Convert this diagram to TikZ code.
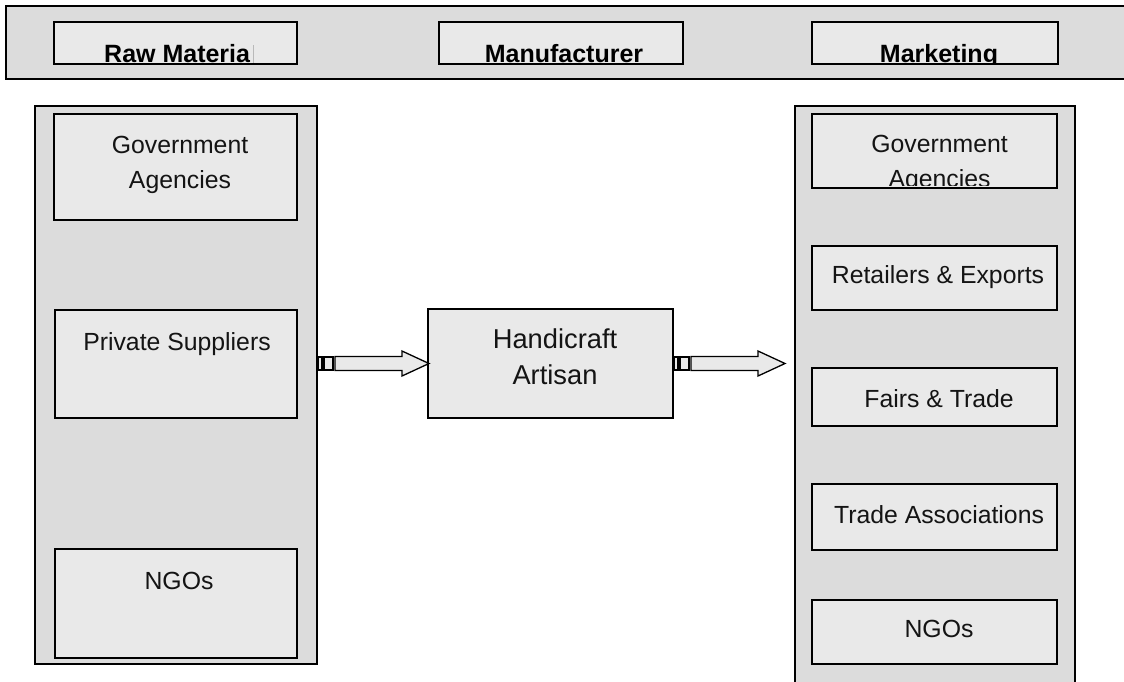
\documentclass[tikz,border=0pt]{standalone}
\usepackage{fontspec}
\setmainfont{Liberation Sans}
\usetikzlibrary{calc}
\definecolor{panelgray}{HTML}{DCDCDC}
\definecolor{boxgray}{HTML}{E9E9E9}
\definecolor{txt}{HTML}{141414}
\tikzset{
  panel/.style={draw=black, fill=panelgray, line width=1.8pt, inner sep=0pt, outer sep=0pt},
  itembox/.style={draw=black, fill=boxgray, line width=1.8pt, inner sep=0pt, outer sep=0pt},
  lbl/.style={text=txt, inner sep=0pt, anchor=base, font=\fontsize{24.8}{35}\selectfont, align=center},
  hdr/.style={text=black, inner sep=0pt, anchor=base, font=\fontsize{25}{30}\selectfont\bfseries},
  arrowpart/.style={draw=black, fill=boxgray, line width=1.3pt}
}
\newcommand\myblockarrow[1]{%
  \draw[arrowpart, shift={(#1)}] (0,-6.5) rectangle (4,6.5);
  \draw[arrowpart, shift={(#1)}] (6,-6.5) rectangle (15,6.5);
  \draw[arrowpart, shift={(#1)}] (17,-7) -- (84,-7) -- (84,-12.5) -- (111,0) -- (84,12.5) -- (84,7) -- (17,7) -- cycle;
}
\begin{document}
\begin{tikzpicture}[x=1pt,y=-1pt]
\useasboundingbox (0,0) rectangle (1124,681);
% top band
\path[panel] (6,6) rectangle (1135,79);
\node[itembox, minimum width=243pt, minimum height=42pt] (raw) at (175.5,43) {};
\node[itembox, minimum width=244pt, minimum height=42pt] (manu) at (561,43) {};
\node[itembox, minimum width=246pt, minimum height=42pt] (mkt) at (935,43) {};
\begin{scope}
  \clip (54,22) rectangle (1058,63);
  \node[hdr, anchor=base west] (rawt) at (104,62) {Raw Materia};
  \node[hdr] (manut) at (564,62) {Manufacturer};
  \node[hdr] (mktt) at (939,62) {Marketing};
\end{scope}
\draw[gray!55, line width=0.8pt] (253.5,45) -- (253.5,62.5);
% left panel
\node[panel, minimum width=282pt, minimum height=558pt] (pl) at (176,385) {};
\node[itembox, minimum width=243pt, minimum height=106pt] (lgov) at (175.5,167) {};
\node[itembox, minimum width=242pt, minimum height=108pt] (lps) at (176,364) {};
\node[itembox, minimum width=242pt, minimum height=109pt] (lngo) at (176,603.5) {};
\node[lbl] (lgovt) at (180,188) {Government\\Agencies};
\node[lbl] (lpst) at (177,350) {Private Suppliers};
\node[lbl] (lngot) at (179,589) {NGOs};
% center
\node[itembox, minimum width=245pt, minimum height=109pt] (hc) at (550.5,363.5) {};
\node[lbl, font=\fontsize{27.3}{36}\selectfont] (hct) at (555,384) {Handicraft\\Artisan};
% right panel
\node[panel, minimum width=280pt, minimum height=600pt] (rp) at (935,406) {};
\node[itembox, minimum width=245pt, minimum height=74pt] (rgov) at (934.5,151) {};
\node[itembox, minimum width=245pt, minimum height=64pt] (rret) at (934.5,278) {};
\node[itembox, minimum width=245pt, minimum height=58pt] (rfair) at (934.5,397) {};
\node[itembox, minimum width=245pt, minimum height=66pt] (rtrade) at (934.5,517) {};
\node[itembox, minimum width=245pt, minimum height=64pt] (rngo) at (934.5,632) {};
\begin{scope}
  \clip (812,114) rectangle (1057,185.5);
  \node[lbl] (rgovt) at (939.5,187) {Government\\Agencies};
\end{scope}
\node[lbl] (rrett) at (938,283) {Retailers \& Exports};
\node[lbl] (rfairt) at (939,407) {Fairs \& Trade};
\node[lbl] (rtradet) at (939,523) {Trade Associations};
\node[lbl] (rngot) at (939,637) {NGOs};
% arrows
\coordinate (s1) at ($(pl.east |- hc.west)+(1,0)$);
\coordinate (s2) at ($(hc.east)+(1,0)$);
\myblockarrow{s1}
\myblockarrow{s2}
\end{tikzpicture}
\end{document}
